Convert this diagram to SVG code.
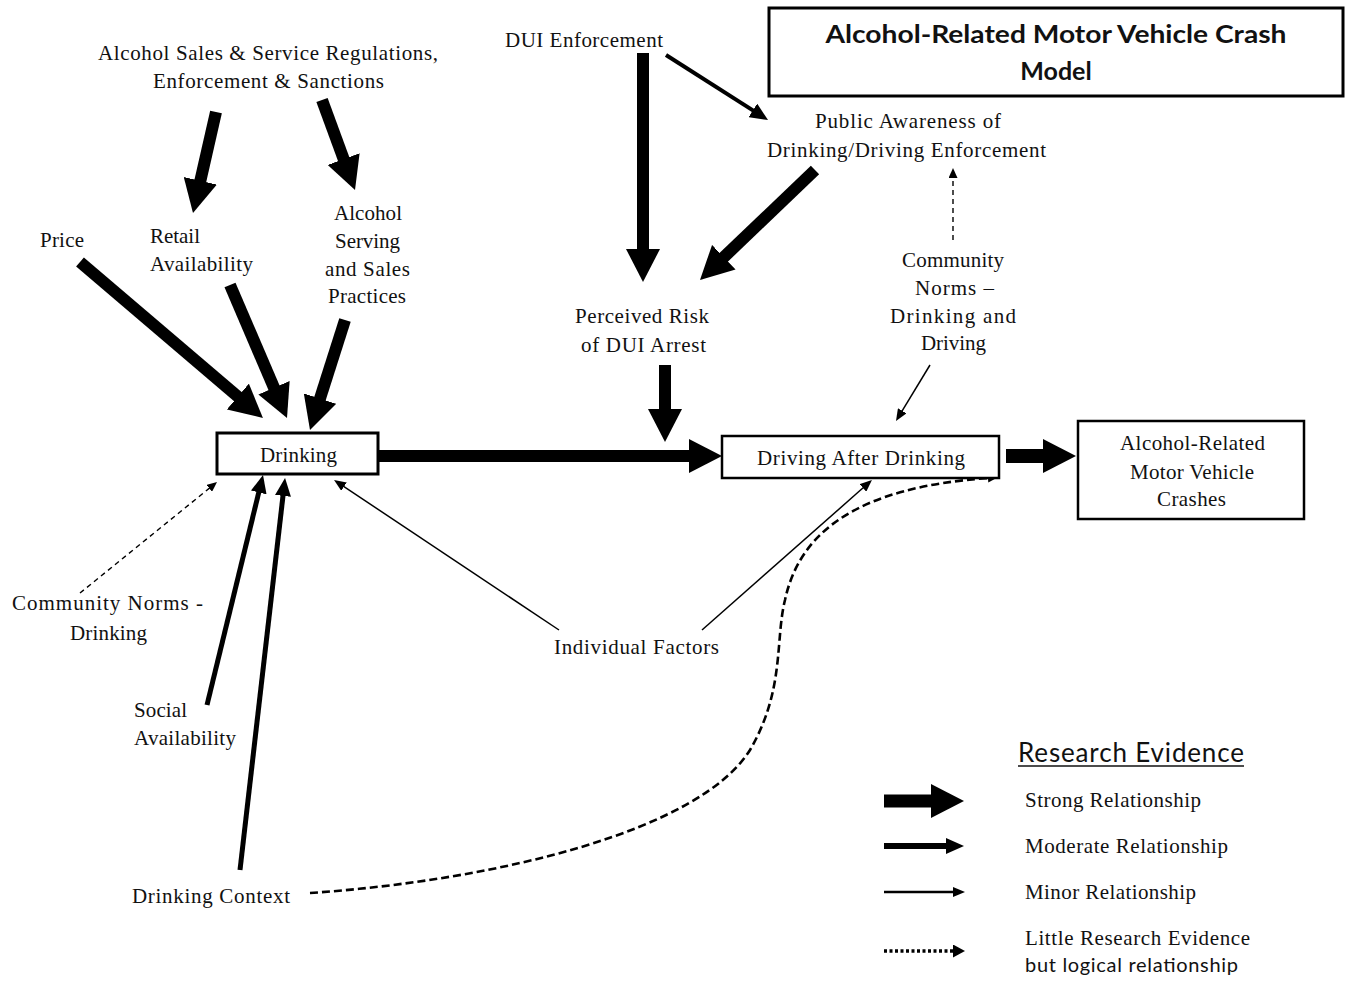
<svg xmlns="http://www.w3.org/2000/svg" width="1349" height="981" viewBox="0 0 1349 981">
<style>
.t{font-family:"Liberation Serif","Times New Roman",serif;font-size:21px;fill:#111}
.s{font-family:Lato,"Liberation Sans",sans-serif;fill:#111}
.box{fill:#fff;stroke:#000;stroke-width:2.5}
.strong{stroke:#000;stroke-width:12;fill:none;marker-end:url(#hS)}
.mod{stroke:#000;stroke-width:5;fill:none;marker-end:url(#hM)}
.minor{stroke:#000;stroke-width:1.5;fill:none;marker-end:url(#hN)}
.dash{stroke:#000;stroke-width:1.4;fill:none;stroke-dasharray:5 4;marker-end:url(#hD)}
.curve{stroke:#000;stroke-width:2.6;fill:none;stroke-dasharray:8 4;marker-end:url(#hD)}
</style>
<defs>
<marker id="hS" markerUnits="userSpaceOnUse" markerWidth="33" markerHeight="34" viewBox="0 0 33 34" refX="1" refY="17" orient="auto"><path d="M0,0 L33,17 L0,34 z" fill="#000"/></marker>
<marker id="hM" markerUnits="userSpaceOnUse" markerWidth="18" markerHeight="16" viewBox="0 0 18 16" refX="1" refY="8" orient="auto"><path d="M0,0 L18,8 L0,16 z" fill="#000"/></marker>
<marker id="hN" markerUnits="userSpaceOnUse" markerWidth="12" markerHeight="10" viewBox="0 0 12 10" refX="1" refY="5" orient="auto"><path d="M0,0 L12,5 L0,10 z" fill="#000"/></marker>
<marker id="hD" markerUnits="userSpaceOnUse" markerWidth="10" markerHeight="9" viewBox="0 0 10 9" refX="1" refY="4.5" orient="auto"><path d="M0,0 L10,4.5 L0,9 z" fill="#000"/></marker>
<marker id="hL" markerUnits="userSpaceOnUse" markerWidth="12" markerHeight="13" viewBox="0 0 12 13" refX="1" refY="6.5" orient="auto"><path d="M0,0 L12,6.5 L0,13 z" fill="#000"/></marker>
</defs>
<rect width="1349" height="981" fill="#fff"/>

<g id="connectors">
<line class="strong" x1="216" y1="112" x2="200.1" y2="181.8"/>
<line class="strong" x1="322" y1="100" x2="344" y2="160"/>
<line class="strong" x1="80" y1="262" x2="238.6" y2="397.2"/>
<line class="strong" x1="230" y1="285" x2="274.4" y2="388.6"/>
<line class="strong" x1="345" y1="320" x2="319.7" y2="399.5"/>
<line class="strong" x1="643" y1="53" x2="643" y2="250"/>
<line class="strong" x1="815" y1="170" x2="723.1" y2="257.9"/>
<line class="strong" x1="665" y1="365" x2="665" y2="410"/>
<line class="strong" x1="378" y1="456" x2="690" y2="456"/>
<line class="strong" x1="1006" y1="456" x2="1044" y2="456" style="stroke-width:14"/>
<line class="mod" x1="666" y1="55" x2="753.7" y2="110.9" style="stroke-width:4"/>
<line class="mod" x1="207" y1="705" x2="259" y2="491.5"/>
<line class="mod" x1="240" y1="870" x2="283.1" y2="494.9"/>
<line class="minor" x1="930" y1="365" x2="901.7" y2="411.6"/>
<line class="minor" x1="559" y1="630" x2="343.2" y2="486.1"/>
<line class="minor" x1="702" y1="630" x2="863.7" y2="487.3"/>
<line class="dash" x1="953" y1="240" x2="953" y2="177"/>
<line class="dash" x1="80" y1="593" x2="210" y2="487.7"/>
<path class="curve" d="M310,893 C500,880 700,830 750,750 C785,690 775,640 785,600 C800,530 860,487 989,478"/>
</g>

<g id="title">
<rect x="769" y="8" width="574" height="88" fill="#fff" stroke="#000" stroke-width="3"/>
<text class="s" x="1056" y="43" text-anchor="middle" font-size="25" font-weight="700" textLength="461" lengthAdjust="spacingAndGlyphs">Alcohol-Related Motor Vehicle Crash</text>
<text class="s" x="1056" y="80" text-anchor="middle" font-size="25" font-weight="700">Model</text>
</g>

<g id="regulations">
<text class="t" x="98" y="60" textLength="340">Alcohol Sales &amp; Service Regulations,</text>
<text class="t" x="153" y="88" textLength="231">Enforcement &amp; Sanctions</text>
</g>
<g id="dui-enforcement"><text class="t" x="505" y="47" textLength="158">DUI Enforcement</text></g>
<g id="public-awareness">
<text class="t" x="815" y="128" textLength="186">Public Awareness of</text>
<text class="t" x="767" y="157" textLength="279">Drinking/Driving Enforcement</text>
</g>
<g id="price"><text class="t" x="40" y="247" textLength="44">Price</text></g>
<g id="retail-availability">
<text class="t" x="150" y="243" textLength="50">Retail</text>
<text class="t" x="150" y="271" textLength="103">Availability</text>
</g>
<g id="serving-practices">
<text class="t" x="334" y="220" textLength="68">Alcohol</text>
<text class="t" x="335" y="248" textLength="65">Serving</text>
<text class="t" x="325" y="276" textLength="85">and Sales</text>
<text class="t" x="328" y="303" textLength="78">Practices</text>
</g>
<g id="perceived-risk">
<text class="t" x="575" y="323" textLength="134">Perceived Risk</text>
<text class="t" x="581" y="352" textLength="125">of DUI Arrest</text>
</g>
<g id="community-norms-dd">
<text class="t" x="902" y="267" textLength="102">Community</text>
<text class="t" x="915" y="295" textLength="79">Norms –</text>
<text class="t" x="890" y="323" textLength="126">Drinking and</text>
<text class="t" x="921" y="350" textLength="65">Driving</text>
</g>
<g id="drinking">
<rect x="217" y="433" width="161" height="41" fill="#fff" stroke="#000" stroke-width="3"/>
<text class="t" x="260" y="462" textLength="77">Drinking</text>
</g>
<g id="driving-after-drinking">
<rect class="box" x="722" y="436" width="277" height="42"/>
<text class="t" x="757" y="465" textLength="208">Driving After Drinking</text>
</g>
<g id="crashes">
<rect class="box" x="1078" y="421" width="226" height="98"/>
<text class="t" x="1120" y="450" textLength="145">Alcohol-Related</text>
<text class="t" x="1130" y="479" textLength="124">Motor Vehicle</text>
<text class="t" x="1157" y="506" textLength="69">Crashes</text>
</g>
<g id="community-norms-drinking">
<text class="t" x="12" y="610" textLength="191">Community Norms -</text>
<text class="t" x="70" y="640" textLength="77">Drinking</text>
</g>
<g id="social-availability">
<text class="t" x="134" y="717" textLength="53">Social</text>
<text class="t" x="134" y="745" textLength="102">Availability</text>
</g>
<g id="drinking-context"><text class="t" x="132" y="903" textLength="158">Drinking Context</text></g>
<g id="individual-factors"><text class="t" x="554" y="654" textLength="165">Individual Factors</text></g>

<g id="legend">
<text class="s" x="1018" y="762" font-size="26" textLength="226">Research Evidence</text>
<line x1="1018" y1="766" x2="1244" y2="766" stroke="#111" stroke-width="1.5"/>
<line x1="884" y1="801" x2="932" y2="801" stroke="#000" stroke-width="13" marker-end="url(#hS)"/>
<line x1="884" y1="846" x2="947" y2="846" stroke="#000" stroke-width="6" marker-end="url(#hM)"/>
<line x1="884" y1="892" x2="954" y2="892" stroke="#000" stroke-width="2.5" marker-end="url(#hN)"/>
<line x1="884" y1="951" x2="954" y2="951" stroke="#000" stroke-width="3.5" stroke-dasharray="3 2.5" marker-end="url(#hL)"/>
<text class="t" x="1025" y="807" textLength="176">Strong Relationship</text>
<text class="t" x="1025" y="853" textLength="203">Moderate Relationship</text>
<text class="t" x="1025" y="899" textLength="171">Minor Relationship</text>
<text class="t" x="1025" y="945" textLength="225">Little Research Evidence</text>
<text class="s" x="1025" y="972" font-size="20" textLength="213">but logical relationship</text>
</g>
</svg>
